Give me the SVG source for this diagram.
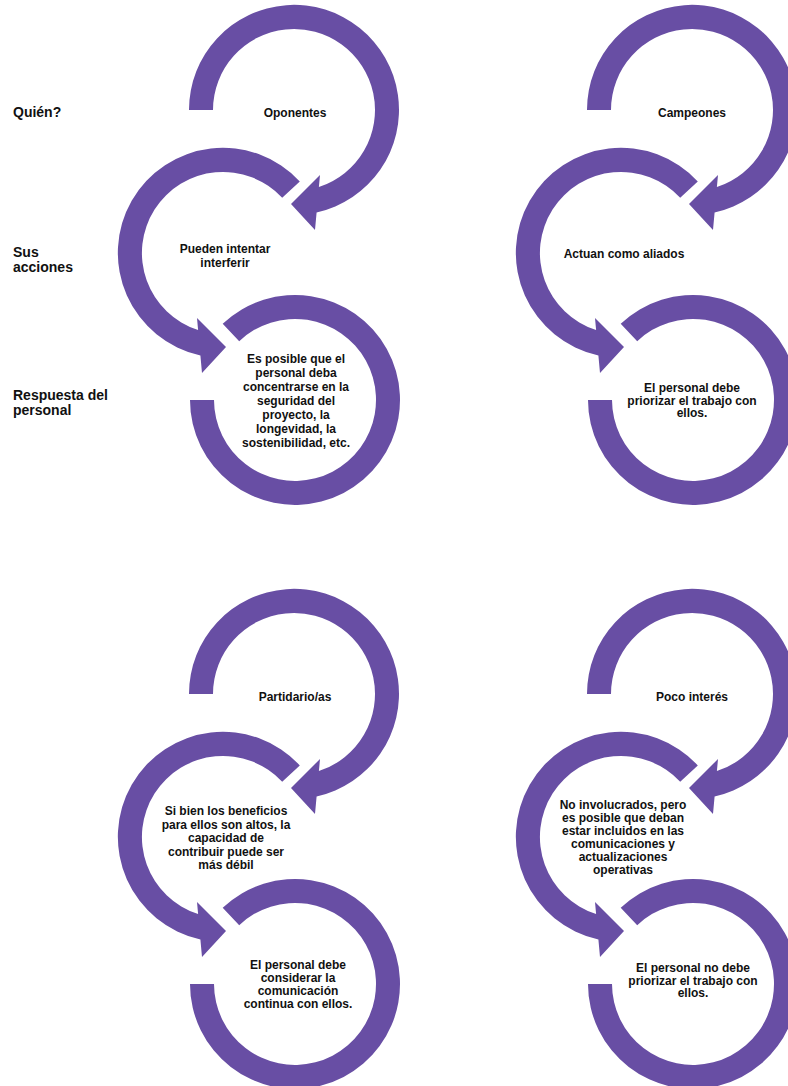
<svg xmlns="http://www.w3.org/2000/svg" xmlns:xlink="http://www.w3.org/1999/xlink" width="788" height="1086" viewBox="0 0 788 1086">
<style>
.ring{fill:#684EA4}
.t{font-family:"Liberation Sans",Arial,sans-serif;font-weight:bold;font-size:12px;fill:#111;text-anchor:middle}
.l{font-family:"Liberation Sans",Arial,sans-serif;font-weight:bold;font-size:14px;fill:#111}
</style>
<defs>
<path id="shapeA" class="ring" d="M -105 0 A 105 105 0 1 1 22.6 102.4 L 21 120 L -3 94 L 26 65 L 24.9 77.1 A 81 81 0 1 0 -81 0 Z"/>
<path id="shapeB" class="ring" transform="scale(-1,1)" d="M -76.8 -71.6 A 105 105 0 1 1 22.6 102.4 L 21 120 L -3 94 L 26 65 L 24.9 77.1 A 81 81 0 1 0 -59.2 -55.2 Z"/>
<path id="shapeC" class="ring" d="M -72.3 -76.2 A 105 105 0 1 1 -105 0 L -81 0 A 81 81 0 1 0 -55.8 -58.8 Z"/>
</defs>
<rect width="788" height="1086" fill="#fff"/>
<g id="row-labels">
<text class="l" x="13" y="117">Quién?</text>
<text class="l" x="13" y="257">Sus</text>
<text class="l" x="13" y="272">acciones</text>
<text class="l" x="13" y="400">Respuesta del</text>
<text class="l" x="13" y="415">personal</text>
</g>
<g id="oponentes">
<use xlink:href="#shapeA" href="#shapeA" x="294" y="110"/>
<text class="t" x="295" y="117">Oponentes</text>
</g>
<g id="oponentes-acciones">
<use xlink:href="#shapeB" href="#shapeB" x="223" y="253"/>
<text class="t" x="225" y="253">Pueden intentar</text>
<text class="t" x="225" y="267">interferir</text>
</g>
<g id="oponentes-respuesta">
<use xlink:href="#shapeC" href="#shapeC" x="295" y="400"/>
<text class="t" x="296" y="363">Es posible que el</text>
<text class="t" x="296" y="377">personal deba</text>
<text class="t" x="296" y="391">concentrarse en la</text>
<text class="t" x="296" y="405">seguridad del</text>
<text class="t" x="296" y="419">proyecto, la</text>
<text class="t" x="296" y="433">longevidad, la</text>
<text class="t" x="296" y="447">sostenibilidad, etc.</text>
</g>
<g id="campeones">
<use xlink:href="#shapeA" href="#shapeA" x="692" y="110"/>
<text class="t" x="692" y="117">Campeones</text>
</g>
<g id="campeones-acciones">
<use xlink:href="#shapeB" href="#shapeB" x="621" y="253"/>
<text class="t" x="624" y="258">Actuan como aliados</text>
</g>
<g id="campeones-respuesta">
<use xlink:href="#shapeC" href="#shapeC" x="693" y="400"/>
<text class="t" x="692" y="392">El personal debe</text>
<text class="t" x="692" y="404.5">priorizar el trabajo con</text>
<text class="t" x="692" y="417">ellos.</text>
</g>
<g id="partidarios">
<use xlink:href="#shapeA" href="#shapeA" x="294" y="694"/>
<text class="t" x="295" y="701">Partidario/as</text>
</g>
<g id="partidarios-acciones">
<use xlink:href="#shapeB" href="#shapeB" x="223" y="837"/>
<text class="t" x="226" y="815">Si bien los beneficios</text>
<text class="t" x="226" y="828.5">para ellos son altos, la</text>
<text class="t" x="226" y="842">capacidad de</text>
<text class="t" x="226" y="855.5">contribuir puede ser</text>
<text class="t" x="226" y="869">más débil</text>
</g>
<g id="partidarios-respuesta">
<use xlink:href="#shapeC" href="#shapeC" x="295" y="984"/>
<text class="t" x="298" y="969">El personal debe</text>
<text class="t" x="298" y="982">considerar la</text>
<text class="t" x="298" y="995">comunicación</text>
<text class="t" x="298" y="1008">continua con ellos.</text>
</g>
<g id="poco-interes">
<use xlink:href="#shapeA" href="#shapeA" x="692" y="694"/>
<text class="t" x="692" y="701">Poco interés</text>
</g>
<g id="poco-interes-acciones">
<use xlink:href="#shapeB" href="#shapeB" x="621" y="837"/>
<text class="t" x="623" y="809">No involucrados, pero</text>
<text class="t" x="623" y="822">es posible que deban</text>
<text class="t" x="623" y="835">estar incluidos en las</text>
<text class="t" x="623" y="848">comunicaciones y</text>
<text class="t" x="623" y="861">actualizaciones</text>
<text class="t" x="623" y="874">operativas</text>
</g>
<g id="poco-interes-respuesta">
<use xlink:href="#shapeC" href="#shapeC" x="693" y="984"/>
<text class="t" x="693" y="972">El personal no debe</text>
<text class="t" x="693" y="984.5">priorizar el trabajo con</text>
<text class="t" x="693" y="997">ellos.</text>
</g>
<g id="connectors"></g>
</svg>
